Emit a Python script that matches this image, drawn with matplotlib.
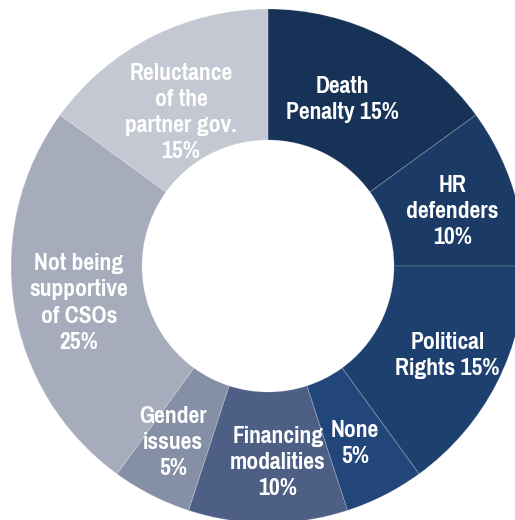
import numpy as np
import matplotlib
matplotlib.use("Agg")
import matplotlib.pyplot as plt
from matplotlib.patches import Wedge

labels = ["Death\nPenalty 15%", "HR\ndefenders\n10%", "Political\nRights 15%", "None\n5%",
          "Financing\nmodalities\n10%", "Gender\nissues\n5%",
          "Not being\nsupportive\nof CSOs\n25%", "Reluctance\nof the\npartner gov.\n15%"]
shares = [15, 10, 15, 5, 10, 5, 25, 15]
colors = ["#163257", "#1b3a66", "#1e406f", "#224679", "#4e5f86", "#858fa6", "#a7acbd", "#c4c8d3"]

plt.rcParams['font.family'] = ['Pragati Narrow', 'PT Sans Narrow', 'DejaVu Sans']

W, H = 515, 520
fig = plt.figure(figsize=(W / 100, H / 100), dpi=100)
ax = fig.add_axes([0, 0, 1, 1])
cx, cy = 268, 266
ax.set_xlim(-cx, W - cx)
ax.set_ylim(-(H - cy), cy)
ax.set_aspect('equal')
ax.axis('off')

r_out, r_in = 257, 126
total = sum(shares)
start = 90.0
# small nudges for some labels (pixels)
nudge = {0: (-13, -4), 1: (2, -5), 2: (9, -3), 3: (0, -7), 4: (10, -5),
         5: (-8, -6), 6: (0, -7), 7: (0, -17)}
for i, (lab, v, c) in enumerate(zip(labels, shares, colors)):
    sweep = 360.0 * v / total
    t1, t2 = start - sweep, start
    ax.add_patch(Wedge((0, 0), r_out, t1, t2, width=r_out - r_in,
                       facecolor=c, edgecolor=(1, 1, 1, 0.22), linewidth=0.6))
    mid = np.deg2rad((t1 + t2) / 2)
    rl = (r_out + r_in) / 2
    dx, dy = nudge.get(i, (0, 0))
    ax.text(rl * np.cos(mid) + dx, rl * np.sin(mid) + dy, lab, ha='center', va='center',
            color='white', fontsize=18.5, fontweight='bold', linespacing=1.3)
    start = t1

fig.savefig("out.png", dpi=100, facecolor='white')
